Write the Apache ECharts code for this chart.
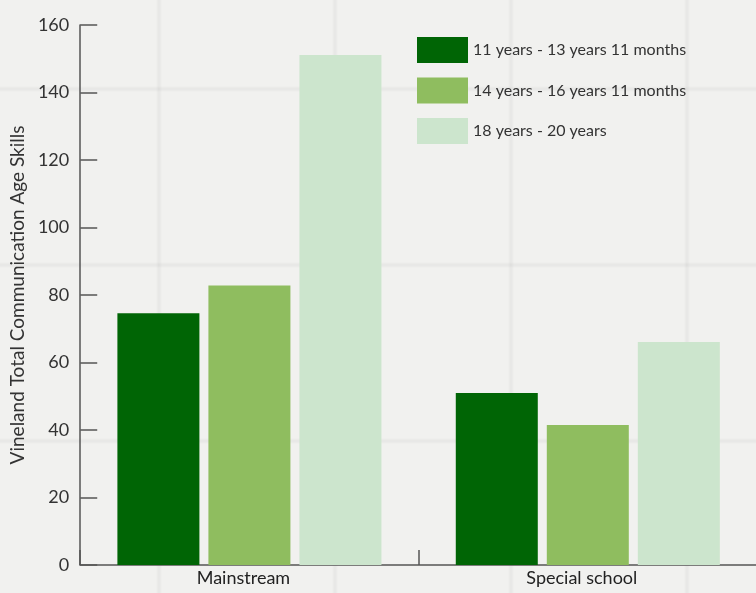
<!DOCTYPE html>
<html>
<head>
<meta charset="utf-8">
<script src="https://cdn.jsdelivr.net/npm/echarts@6/dist/echarts.min.js"></script>
<style>
html,body{margin:0;padding:0;}
body{
  width:756px;height:593px;overflow:hidden;
  background-color:#f1f1ef;
  background-image:
    linear-gradient(to right, rgba(0,0,0,0) 0px, rgba(0,0,0,0.03) 2px, rgba(0,0,0,0.045) 3px, rgba(0,0,0,0.03) 4px, rgba(0,0,0,0) 6px),
    linear-gradient(to bottom, rgba(0,0,0,0) 0px, rgba(0,0,0,0.03) 2px, rgba(0,0,0,0.045) 3px, rgba(0,0,0,0.03) 4px, rgba(0,0,0,0) 6px);
  background-size:176px 176px;
  background-position:156px 86px;
}
#chart{width:772px;height:593px;}
</style>
</head>
<body>
<div id="chart"></div>
<script>
const categories = ['Mainstream', 'Special school'];
const seriesNames = ['11 years - 13 years 11 months', '14 years - 16 years 11 months', '18 years - 20 years'];
const age11to13 = [74.6, 51.0];
const age14to16 = [82.8, 41.5];
const age18to20 = [151.1, 66.1];
const yTicks = [0, 20, 40, 60, 80, 100, 120, 140, 160];

const colors = ['#006505', '#8fbd5f', '#cce5cd'];
const values = [age11to13, age14to16, age18to20];

const chart = echarts.init(document.getElementById('chart'));
const font = 'Lato, "Open Sans", sans-serif';
chart.setOption({
  backgroundColor: 'transparent',
  animation: false,
  textStyle: { fontFamily: font },
  legend: {
    orient: 'vertical',
    left: 412,
    top: 32,
    itemWidth: 51,
    itemHeight: 26,
    itemGap: 14.5,
    icon: 'rect',
    textStyle: { fontSize: 16, color: '#333', fontFamily: font },
    data: seriesNames
  },
  grid: { left: 78, right: 15, top: 25, bottom: 28, containLabel: false },
  xAxis: {
    type: 'category',
    data: categories,
    axisLine: { lineStyle: { color: '#555', width: 1.5 } },
    axisTick: { show: true, inside: true, length: 15, lineStyle: { color: '#555', width: 1.5 } },
    axisLabel: { fontSize: 18, color: '#222', margin: 4, fontFamily: font, padding: [0, 12, 0, 0] },
    splitLine: { show: false }
  },
  yAxis: {
    type: 'value',
    min: yTicks[0],
    max: yTicks[yTicks.length - 1],
    interval: yTicks[1] - yTicks[0],
    name: 'Vineland Total Communication Age Skills',
    nameLocation: 'middle',
    nameGap: 52,
    nameRotate: 90,
    nameTextStyle: { fontSize: 19, color: '#333', fontFamily: font },
    axisLine: { show: true, lineStyle: { color: '#555', width: 1.5 } },
    axisTick: { show: true, inside: true, length: 17, lineStyle: { color: '#555', width: 1.5 } },
    axisLabel: { fontSize: 18, color: '#333', margin: 11, fontFamily: font },
    splitLine: { show: false }
  },
  series: seriesNames.map((n, i) => ({
    name: n,
    type: 'bar',
    data: values[i],
    barWidth: 82,
    barGap: '11%',
    itemStyle: { color: colors[i] }
  }))
});
</script>
</body>
</html>
